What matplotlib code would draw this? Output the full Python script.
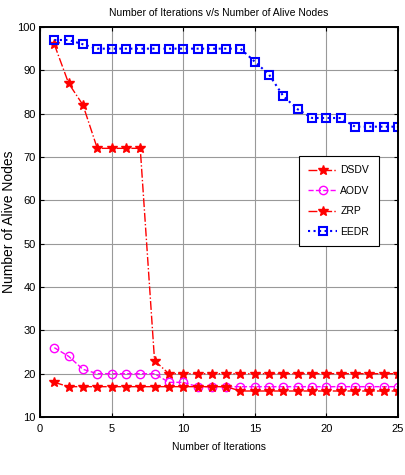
import matplotlib
matplotlib.use("Agg")
import matplotlib.pyplot as plt

iterations = list(range(1, 26))
dsdv = [96, 87, 82, 72, 72, 72, 72, 23, 20, 20, 20, 20, 20, 20, 20, 20, 20, 20, 20, 20, 20, 20, 20, 20, 20]
aodv = [26, 24, 21, 20, 20, 20, 20, 20, 18, 18, 17, 17, 17, 17, 17, 17, 17, 17, 17, 17, 17, 17, 17, 17, 17]
zrp = [18, 17, 17, 17, 17, 17, 17, 17, 17, 17, 17, 17, 17, 16, 16, 16, 16, 16, 16, 16, 16, 16, 16, 16, 16]
eedr = [97, 97, 96, 95, 95, 95, 95, 95, 95, 95, 95, 95, 95, 95, 92, 89, 84, 81, 79, 79, 79, 77, 77, 77, 77]
series_names = ["DSDV", "AODV", "ZRP", "EEDR"]
xticks = [0, 5, 10, 15, 20, 25]
yticks = [10, 20, 30, 40, 50, 60, 70, 80, 90, 100]

narrow = ['Liberation Sans Narrow', 'Liberation Sans', 'DejaVu Sans']
sans = ['Liberation Sans', 'DejaVu Sans']

fig = plt.figure(figsize=(4.05, 4.75), dpi=100)
ax = fig.add_axes([40/405, 1-417/475, 358/405, 390/475])

ax.plot(iterations, dsdv, color='red', linestyle='-.', marker='*', markersize=7, linewidth=1.0, label=series_names[0])
ax.plot(iterations, aodv, color='magenta', linestyle='--', marker='o', markersize=6, markerfacecolor='none', linewidth=1.0, label=series_names[1])
ax.plot(iterations, zrp, color='red', linestyle='-.', marker='*', markersize=7, linewidth=1.0, label=series_names[2])
ax.plot(iterations, eedr, color='blue', linestyle=':', marker='s', markersize=6, markerfacecolor='none', markeredgewidth=1.5, linewidth=1.5, label=series_names[3])

ax.set_xlim(0, 25)
ax.set_ylim(10, 100)
ax.set_xticks(xticks)
ax.set_yticks(yticks)
ax.grid(True, color='#999999', linewidth=0.8, linestyle='-')
ax.tick_params(direction='in', top=True, right=True, labelsize=8, length=3)
ax.tick_params(axis='x', pad=5)
ax.tick_params(axis='y', pad=3)
for lab in ax.get_xticklabels() + ax.get_yticklabels():
    lab.set_family(sans)
for sp in ax.spines.values():
    sp.set_linewidth(1.4)

ax.set_title("Number of Iterations v/s Number of Alive Nodes", fontsize=7.5, family=narrow, pad=8)
ax.set_xlabel("Number of Iterations", fontsize=7.5, family=narrow, labelpad=6)
ax.set_ylabel("Number of Alive Nodes", fontsize=10, family=sans, labelpad=1)

leg = ax.legend(loc='upper right', bbox_to_anchor=(0.947, 0.669), borderaxespad=0,
                prop={'family': sans, 'size': 7.5},
                fancybox=False, edgecolor='black', framealpha=1, handlelength=2.8, borderpad=0.9,
                labelspacing=1.0, handletextpad=0.3)
leg.get_frame().set_linewidth(0.8)

fig.savefig("out.png", dpi=100)
